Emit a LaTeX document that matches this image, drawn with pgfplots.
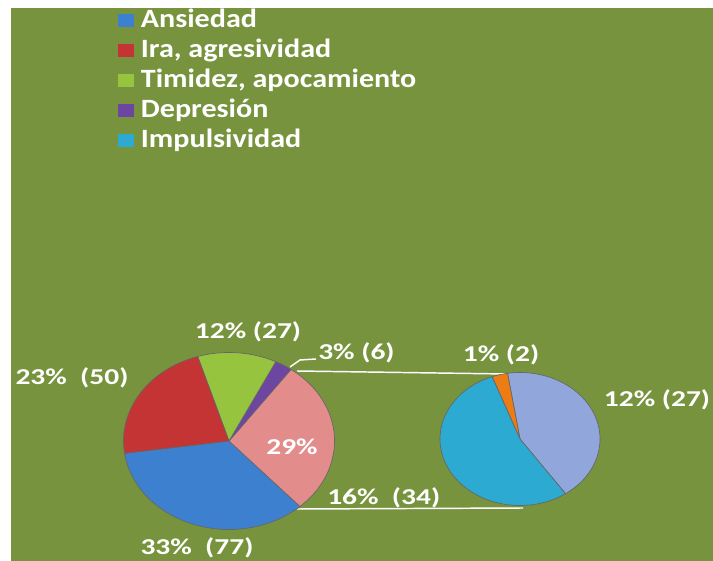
\documentclass[border=0pt]{standalone}
\usepackage{pgfplots}
\pgfplotsset{compat=1.18}
\usepackage{pgfplotstable}
\usepackage{fontspec}
\setmainfont{Carlito}
\newfontfamily\legfont{Carlito}[FakeStretch=1.14]
\newfontfamily\labfont{Carlito}[FakeStretch=1.3]

\definecolor{bg}{RGB}{119,147,61}
\definecolor{cA}{RGB}{62,128,208}
\definecolor{cB}{RGB}{196,52,52}
\definecolor{cC}{RGB}{150,196,62}
\definecolor{cD}{RGB}{108,70,160}
\definecolor{cE}{RGB}{226,140,140}
\definecolor{cF}{RGB}{145,166,218}
\definecolor{cG}{RGB}{45,170,210}
\definecolor{cH}{RGB}{236,124,20}

\pgfplotstableread{
name value
Ansiedad 77
Ira 50
Timidez 27
Depresion 6
Impulsividad 34
OtroA 27
OtroB 2
}\piedata

\pgfplotstablegetelem{0}{value}\of\piedata \edef\vA{\pgfplotsretval}
\pgfplotstablegetelem{1}{value}\of\piedata \edef\vB{\pgfplotsretval}
\pgfplotstablegetelem{2}{value}\of\piedata \edef\vC{\pgfplotsretval}
\pgfplotstablegetelem{3}{value}\of\piedata \edef\vD{\pgfplotsretval}
\pgfplotstablegetelem{4}{value}\of\piedata \edef\vE{\pgfplotsretval}
\pgfplotstablegetelem{5}{value}\of\piedata \edef\vF{\pgfplotsretval}
\pgfplotstablegetelem{6}{value}\of\piedata \edef\vG{\pgfplotsretval}
\pgfmathsetmacro\vO{\vE+\vF+\vG}
\pgfmathsetmacro\tot{\vA+\vB+\vC+\vD+\vO}
% left pie angles
\pgfmathsetmacro\La{188}
\pgfmathsetmacro\Lb{\La+360*(\vA/\tot)}
\pgfmathsetmacro\Lc{\Lb+360*(\vO/\tot)}
\pgfmathsetmacro\Ld{\Lc+360*(\vD/\tot)}
\pgfmathsetmacro\Le{\Ld+360*(\vC/\tot)}
\pgfmathsetmacro\Lf{\Le+360*(\vB/\tot)}
% right pie angles
\pgfmathsetmacro\Ra{-55.3}
\pgfmathsetmacro\Rb{\Ra+360*(\vF/\vO)}
\pgfmathsetmacro\Rc{\Rb+360*(\vG/\vO)}
\pgfmathsetmacro\Rd{\Rc+360*(\vE/\vO)}

% slice: cx cy rx ry a b color
\newcommand\slice[7]{%
  \addplot[fill=#7, draw=black!60, line width=0.5pt, domain=#5:#6, samples=60]
    ({#1+#3*cos(x)},{#2+#4*sin(x)}) -- (axis cs:#1,#2) -- cycle;}

\begin{document}
\begin{tikzpicture}
\begin{axis}[
  width=534.75pt, height=420pt, scale only axis,
  xmin=0, xmax=713, ymin=0, ymax=560,
  hide axis, clip=false,
  legend style={at={(rel axis cs:0.1655,0.9875)}, anchor=north west,
    draw=none, fill=none, inner sep=0pt, text=white,
    font=\legfont\bfseries\fontsize{19.8}{22}\selectfont,
    nodes={inner sep=0pt, text height=15pt, text depth=5pt},
    row sep=2.5pt, column sep=5pt},
  legend cell align=left,
  legend image code/.code={\fill[#1, draw=none] (0pt,-4.8pt) rectangle (12pt,4.8pt);},
]
\fill[white] (axis cs:-10,-10) rectangle (axis cs:723,570);
\fill[bg] (axis cs:11,-10) rectangle (axis cs:723,552);
\coordinate (LL) at (rel axis cs:0,0);
\coordinate (UR) at (rel axis cs:1,1);

\addlegendimage{fill=cA}\addlegendentry{Ansiedad}
\addlegendimage{fill=cB}\addlegendentry{Ira, agresividad}
\addlegendimage{fill=cC}\addlegendentry{Timidez, apocamiento}
\addlegendimage{fill=cD}\addlegendentry{Depresión}
\addlegendimage{fill=cG}\addlegendentry{Impulsividad}

% connector lines
\draw[white, line width=1.1pt] (axis cs:297,189) -- (axis cs:507,186);
\draw[white, line width=1.1pt] (axis cs:297,51) -- (axis cs:523,52);

% left pie
\slice{229}{119}{105.5}{88.5}{\La}{\Lb}{cA}
\slice{229}{119}{105.5}{88.5}{\Lb}{\Lc}{cE}
\slice{229}{119}{105.5}{88.5}{\Lc}{\Ld}{cD}
\slice{229}{119}{105.5}{88.5}{\Ld}{\Le}{cC}
\slice{229}{119}{105.5}{88.5}{\Le}{\Lf}{cB}
% right pie
\slice{520}{121}{80}{66.5}{\Ra}{\Rb}{cF}
\slice{520}{121}{80}{66.5}{\Rb}{\Rc}{cH}
\slice{520}{121}{80}{66.5}{\Rc}{\Rd}{cG}

% leader for 3%
\draw[white, line width=1.1pt] (axis cs:290,193) -- (axis cs:300,200) -- (axis cs:316,201);

\begin{scope}[every node/.style={text=white, font=\labfont\bfseries\fontsize{17}{20}\selectfont, inner sep=0pt}]
\node at (axis cs:248,228) {12\% (27)};
\node at (axis cs:72,182) {23\%\ \ (50)};
\node[anchor=west] at (axis cs:318,207) {3\% (6)};
\node at (axis cs:292,113) {29\%};
\node[anchor=west] at (axis cs:327,62) {16\%\ \ (34)};
\node at (axis cs:197,12) {33\%\ \ (77)};
\node at (axis cs:501,205) {1\% (2)};
\node at (axis cs:657,160) {12\% (27)};
\end{scope}
\end{axis}
\pgfresetboundingbox
\useasboundingbox (LL) rectangle (UR);
\end{tikzpicture}
\end{document}
